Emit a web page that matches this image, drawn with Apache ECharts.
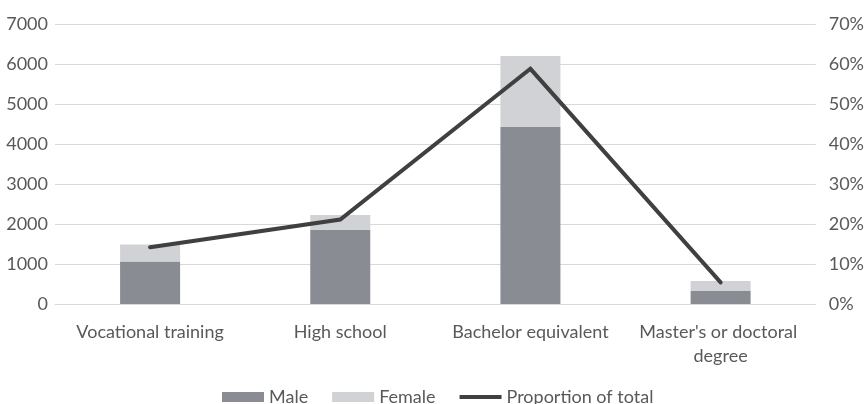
<!DOCTYPE html>
<html>
<head>
<meta charset="utf-8">
<script src="https://cdn.jsdelivr.net/npm/echarts@6/dist/echarts.min.js"></script>
<style>
  html, body { margin: 0; padding: 0; background: #ffffff; }
  #chart { width: 867px; height: 404px; }
</style>
</head>
<body>
<div id="chart"></div>
<script>
// Education level counts split by sex, plus each level's share of the total
const categories = ['Vocational training', 'High school', 'Bachelor equivalent', "Master's or doctoral degree"];
const maleCounts = [1060, 1850, 4430, 325];
const femaleCounts = [430, 375, 1770, 250];
const proportionOfTotal = [14.2, 21.1, 58.8, 5.4];

const textColor = '#595959';
const fontFamily = 'Lato, "Open Sans", sans-serif';
const fontSize = 18;

// Thick bar-shaped legend icon for the line series (invisible points keep the 10px box)
const lineIcon = 'path://M0,0 L0.01,0 M0,10 L0.01,10 M0,3 L44,3 L44,7 L0,7 Z';

const chart = echarts.init(document.getElementById('chart'), null, { renderer: 'canvas' });

chart.setOption({
  animation: false,
  textStyle: { fontFamily: fontFamily },
  grid: { left: 55, right: 47, top: 24, bottom: 100, containLabel: false },
  legend: {
    left: 217,
    top: 383,
    itemWidth: 42,
    itemHeight: 10,
    itemGap: 24,
    textStyle: { color: textColor, fontSize: fontSize, fontFamily: fontFamily },
    data: [
      { name: 'Male', icon: 'rect' },
      { name: 'Female', icon: 'rect' },
      { name: 'Proportion of total', icon: lineIcon }
    ]
  },
  xAxis: {
    type: 'category',
    data: categories,
    axisTick: { show: false },
    axisLine: { show: true, lineStyle: { color: '#d9d9d9', width: 1 } },
    axisLabel: {
      color: textColor,
      fontSize: fontSize,
      fontFamily: fontFamily,
      margin: 16,
      lineHeight: 24,
      interval: 0,
      width: 170,
      overflow: 'break'
    }
  },
  yAxis: [
    {
      type: 'value',
      min: 0,
      max: 7000,
      interval: 1000,
      axisLine: { show: false },
      axisTick: { show: false },
      splitLine: { lineStyle: { color: '#d9d9d9', width: 1 } },
      axisLabel: {
        color: textColor,
        fontSize: fontSize,
        fontFamily: fontFamily,
        margin: 7,
        formatter: function (v) { return String(v); }
      }
    },
    {
      type: 'value',
      min: 0,
      max: 70,
      interval: 10,
      axisLine: { show: false },
      axisTick: { show: false },
      splitLine: { show: false },
      axisLabel: {
        color: textColor,
        fontSize: fontSize,
        fontFamily: fontFamily,
        margin: 13,
        formatter: '{value}%'
      }
    }
  ],
  series: [
    {
      name: 'Male',
      type: 'bar',
      stack: 'count',
      barWidth: 60,
      itemStyle: { color: '#898c92' },
      data: maleCounts
    },
    {
      name: 'Female',
      type: 'bar',
      stack: 'count',
      barWidth: 60,
      itemStyle: { color: '#d1d2d5' },
      data: femaleCounts
    },
    {
      name: 'Proportion of total',
      type: 'line',
      yAxisIndex: 1,
      symbol: 'none',
      lineStyle: { color: '#404040', width: 4, cap: 'round', join: 'miter' },
      itemStyle: { color: '#404040' },
      data: proportionOfTotal
    }
  ]
});
</script>
</body>
</html>
